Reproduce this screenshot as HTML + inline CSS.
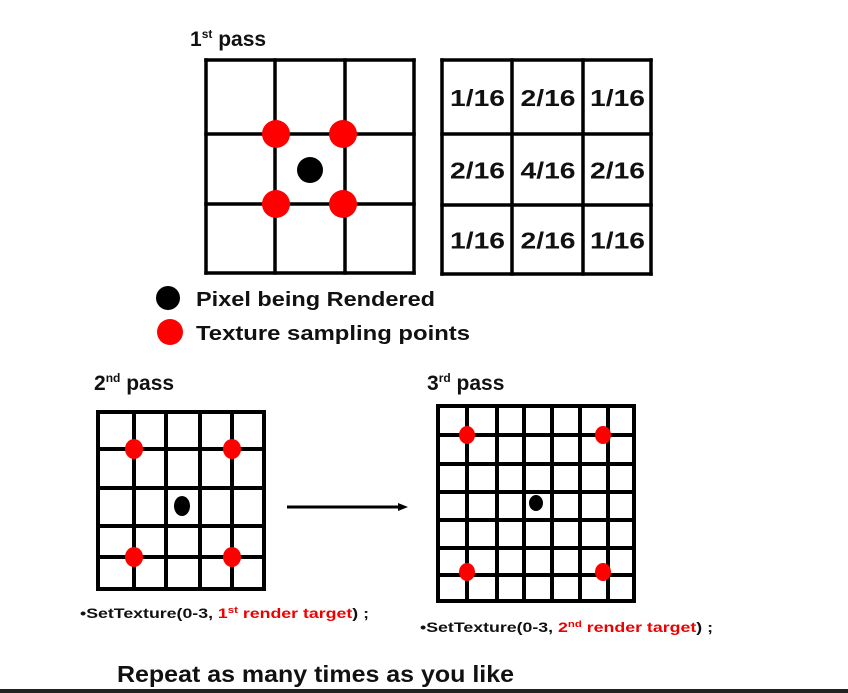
<!DOCTYPE html>
<html><head><meta charset="utf-8"><style>
html,body{margin:0;padding:0;background:#fff;width:848px;height:693px;overflow:hidden}
svg{display:block}
text{font-family:"Liberation Sans","DejaVu Sans",sans-serif;font-weight:bold;fill:#111}
</style></head><body>
<svg id="s" width="848" height="693" viewBox="0 0 848 693" xmlns="http://www.w3.org/2000/svg">
<text x="190" y="46" font-size="21">1<tspan font-size="12" dy="-8">st</tspan><tspan dy="8"> pass</tspan></text>
<text x="94" y="390" font-size="21">2<tspan font-size="12" dy="-8">nd</tspan><tspan dy="8"> pass</tspan></text>
<text x="427" y="390" font-size="21">3<tspan font-size="12" dy="-8">rd</tspan><tspan dy="8"> pass</tspan></text>
<g id="g1"></g>
<g id="g2"></g>
<g id="g3"></g>
<g id="g4"></g>
<circle cx="168" cy="298" r="12" fill="#000"/>
<text x="196" y="306" font-size="20" textLength="239" lengthAdjust="spacingAndGlyphs">Pixel being Rendered</text>
<circle cx="170" cy="332" r="13" fill="#f00"/>
<text x="196" y="340" font-size="20" textLength="274" lengthAdjust="spacingAndGlyphs">Texture sampling points</text>
<line x1="287" y1="507" x2="400" y2="507" stroke="#000" stroke-width="3"/>
<polygon points="408,507 398,503 398,511" fill="#000"/>
<text x="80" y="618" font-size="14" textLength="289" lengthAdjust="spacingAndGlyphs">•SetTexture(0-3, <tspan fill="#e00">1<tspan font-size="9" dy="-5">st</tspan><tspan dy="5"> render target</tspan></tspan>) ;</text>
<text x="420" y="632" font-size="14" textLength="293" lengthAdjust="spacingAndGlyphs">•SetTexture(0-3, <tspan fill="#e00">2<tspan font-size="9" dy="-5">nd</tspan><tspan dy="5"> render target</tspan></tspan>) ;</text>
<text x="117" y="682" font-size="23" textLength="397" lengthAdjust="spacingAndGlyphs">Repeat as many times as you like</text>
<rect x="0" y="689" width="848" height="4" fill="#222"/>
</svg>
<script>
const NS="http://www.w3.org/2000/svg";
function mk(parent,tag,attrs){const e=document.createElementNS(NS,tag);for(const k in attrs)e.setAttribute(k,attrs[k]);parent.appendChild(e);return e;}
function grid(id,xs,ys,sw){
  const g=document.getElementById(id);
  xs.forEach(x=>{const l=mk(g,'line',{x1:x,y1:ys[0]-sw/2,x2:x,y2:ys[ys.length-1]+sw/2,stroke:'#000','stroke-width':sw});
    
    });
  ys.forEach(y=>{const l=mk(g,'line',{x1:xs[0]-sw/2,y1:y,x2:xs[xs.length-1]+sw/2,y2:y,stroke:'#000','stroke-width':sw});
    
    });
  return g;
}
function dot(g,cx,cy,rx,ry,fill,name){const e=mk(g,'ellipse',{cx:cx,cy:cy,rx:rx,ry:ry,fill:fill});
  
  }
// pass 1
const g1=grid('g1',[206,275,345,414],[60,134,204,273],3.5);
[[276,134],[343,134],[276,204],[343,204]].forEach(p=>dot(g1,p[0],p[1],14,14,'#f00','sampling-point'));
dot(g1,310,170,13,13,'#000','rendered-pixel');
// kernel table
const tx=[442,512,583,651],ty=[60,134,205,274];
const g2=grid('g2',tx,ty,3.5);
const weights=[["1/16","2/16","1/16"],["2/16","4/16","2/16"],["1/16","2/16","1/16"]];
weights.forEach((row,r)=>row.forEach((w,c)=>{
  const t=mk(g2,'text',{x:(tx[c]+tx[c+1])/2-27,y:(ty[r]+ty[r+1])/2+9,'font-size':23,textLength:55,lengthAdjust:'spacingAndGlyphs'});
  t.textContent=w;
  
  
}));
// pass 2
const g3=grid('g3',[98,134,166,200,232,264],[412,449,488,526,557,589],4);
[[134,449],[232,449],[134,557],[232,557]].forEach(p=>dot(g3,p[0],p[1],9,10,'#f00','sampling-point'));
dot(g3,182,506,8,10,'#000','rendered-pixel');
// pass 3
const g4=grid('g4',[438,467,497,524,552,580,608,634],[406,435,464,492,520,548,575,601],4);
[[467,435],[603,435],[467,572],[603,572]].forEach(p=>dot(g4,p[0],p[1],8,9,'#f00','sampling-point'));
dot(g4,536,503,7,8,'#000','rendered-pixel');
</script>
</body></html>
